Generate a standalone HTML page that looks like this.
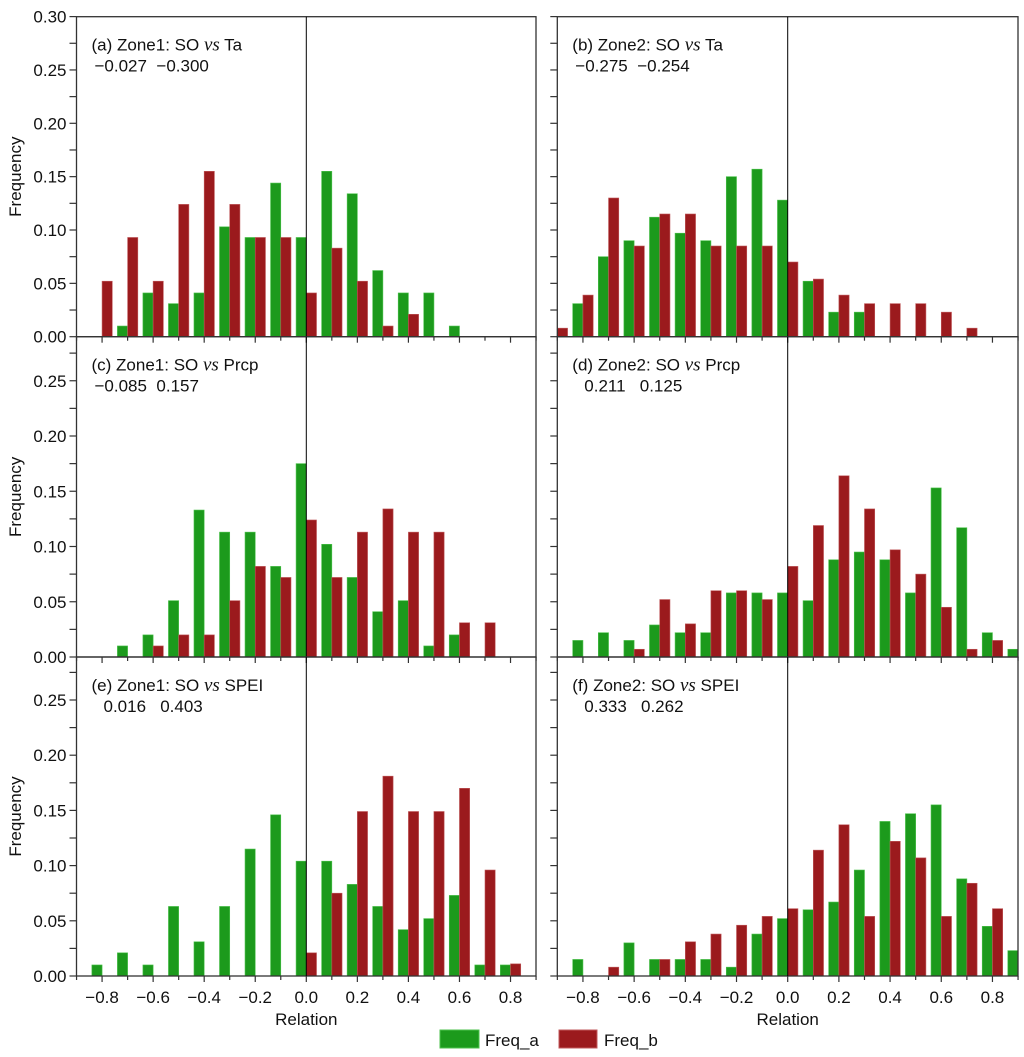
<!DOCTYPE html>
<html><head><meta charset="utf-8"><style>
body{margin:0;background:#fff;}
svg{display:block;font-family:"Liberation Sans",Arial,sans-serif;}
</style></head><body>
<svg id="chart" width="1024" height="1057" viewBox="0 0 1024 1057" xmlns="http://www.w3.org/2000/svg"></svg>
<script>
const bins = [-0.9,-0.8,-0.7,-0.6,-0.5,-0.4,-0.3,-0.2,-0.1,0.0,0.1,0.2,0.3,0.4,0.5,0.6,0.7,0.8,0.9];
const aGreen = [0,0,0.010,0.041,0.031,0.041,0.103,0.093,0.144,0.093,0.155,0.134,0.062,0.041,0.041,0.010,0,0,0];
const aRed   = [0,0.052,0.093,0.052,0.124,0.155,0.124,0.093,0.093,0.041,0.083,0.052,0.010,0.021,0,0,0,0,0];
const bGreen = [0,0.031,0.075,0.090,0.112,0.097,0.090,0.150,0.157,0.128,0.052,0.023,0.023,0,0,0,0,0,0];
const bRed   = [0.008,0.039,0.130,0.085,0.115,0.115,0.085,0.085,0.085,0.070,0.054,0.039,0.031,0.031,0.031,0.023,0.008,0,0];
const cGreen = [0,0,0.010,0.020,0.051,0.133,0.113,0.113,0.082,0.175,0.102,0.072,0.041,0.051,0.010,0.020,0,0,0];
const cRed   = [0,0,0,0.010,0.020,0.020,0.051,0.082,0.072,0.124,0.072,0.113,0.134,0.113,0.113,0.031,0.031,0,0];
const dGreen = [0,0.015,0.022,0.015,0.029,0.022,0.022,0.058,0.058,0.058,0.051,0.088,0.095,0.088,0.058,0.153,0.117,0.022,0.007];
const dRed   = [0,0,0,0.007,0.052,0.030,0.060,0.060,0.052,0.082,0.119,0.164,0.134,0.097,0.075,0.045,0.007,0.015,0];
const eGreen = [0,0.010,0.021,0.010,0.063,0.031,0.063,0.115,0.146,0.104,0.104,0.083,0.063,0.042,0.052,0.073,0.010,0.010,0];
const eRed   = [0,0,0,0,0,0,0,0,0,0.021,0.075,0.149,0.181,0.149,0.149,0.170,0.096,0.011,0];
const fGreen = [0,0.015,0,0.030,0.015,0.015,0.015,0.008,0.038,0.052,0.060,0.067,0.096,0.140,0.147,0.155,0.088,0.045,0.023];
const fRed   = [0,0,0.008,0,0.015,0.031,0.038,0.046,0.054,0.061,0.114,0.137,0.054,0.122,0.107,0.054,0.084,0.061,0];
const yTicks = ["0.00","0.05","0.10","0.15","0.20","0.25","0.30"];
const xTicks = ["-0.8","-0.6","-0.4","-0.2","0.0","0.2","0.4","0.6","0.8"];
const titles = [
 ["(a) Zone1: SO ","Ta","\u22120.027  \u22120.300"],
 ["(b) Zone2: SO ","Ta","\u22120.275  \u22120.254"],
 ["(c) Zone1: SO ","Prcp","\u22120.085  0.157"],
 ["(d) Zone2: SO ","Prcp","0.211   0.125"],
 ["(e) Zone1: SO ","SPEI","0.016   0.403"],
 ["(f) Zone2: SO ","SPEI","0.333   0.262"]
];
const series = [[aGreen,aRed],[bGreen,bRed],[cGreen,cRed],[dGreen,dRed],[eGreen,eRed],[fGreen,fRed]];

const NS="http://www.w3.org/2000/svg";
const svg=document.getElementById('chart');
function mk(tag,attrs,parent){const e=document.createElementNS(NS,tag);for(const k in attrs)e.setAttribute(k,attrs[k]);(parent||svg).appendChild(e);return e;}
const cols=[{x0:76.5,x1:536,z:306.3},{x0:557.3,x1:1018,z:787.7}];
const rows=[{top:16.7,bot:336.7,s:1067},{top:336.7,bot:657,s:1105},{top:657,bot:976,s:1104}];
const GREEN="#1c9a1c",RED="#9b1a1d";
for(let p=0;p<6;p++){
  const c=cols[p%2],r=rows[Math.floor(p/2)];
  const g=mk('g',{});
  
  
  const ppu=(c.x1-c.x0)/1.8;
  const X=v=>c.z+v*ppu, Y=v=>r.bot-v*r.s;
  const bw=0.04*ppu;
  const [gs,rs]=series[p];
  bins.forEach((b,i)=>{
    if(gs[i]>0){const e=mk('rect',{x:X(b)-bw,y:Y(gs[i]),width:bw,height:r.bot-Y(gs[i]),fill:GREEN,stroke:"#4cc24c","stroke-width":0.6},g);
      }
    if(rs[i]>0){const e=mk('rect',{x:X(b),y:Y(rs[i]),width:bw,height:r.bot-Y(rs[i]),fill:RED,stroke:"#c05a5c","stroke-width":0.6},g);
      }
  });
  // frame
  mk('rect',{x:c.x0,y:r.top,width:c.x1-c.x0,height:r.bot-r.top,fill:"none",stroke:"#333","stroke-width":1.3},g);
  mk('line',{x1:X(0),x2:X(0),y1:r.top,y2:r.bot,stroke:"#000","stroke-width":1},g);
  // y ticks
  for(let k=0;k<=12;k++){const v=k*0.025;const y=Y(v);if(y<r.top-0.5)break;
    mk('line',{x1:c.x0-7,x2:c.x0,y1:y,y2:y,stroke:"#333","stroke-width":1.2},g);
    if(p%2===0&&k%2===0){const t=mk('text',{x:c.x0-10,y:y+6,"text-anchor":"end","font-size":17,fill:"#111"},g);t.textContent=yTicks[k/2];
      }
  }
  // x ticks
  for(let k=-9;k<=9;k++){const x=X(k/10);const maj=k%2===0;
    mk('line',{x1:x,x2:x,y1:r.bot,y2:r.bot+(maj?6:4),stroke:"#333","stroke-width":1.2},g);
  }
  if(p>=4){xTicks.forEach((lab,i)=>{const v=-0.8+0.2*i;const t=mk('text',{x:X(v),y:1003,"text-anchor":"middle","font-size":17,fill:"#111"},g);
      t.textContent=lab.replace('-','\u2212');});
    const t=mk('text',{x:c.z,y:1025,"text-anchor":"middle","font-size":17,fill:"#111"},g);t.textContent="Relation";
    }
  if(p%2===0){const yc=(r.top+r.bot)/2;const t=mk('text',{x:21,y:yc,"text-anchor":"middle","font-size":17,fill:"#111",transform:`rotate(-90 21 ${yc})`},g);
    t.textContent="Frequency";}
  const tt=mk('text',{x:c.x0+15,y:r.top+34,"font-size":17,fill:"#111"},g);
  
  tt.appendChild(document.createTextNode(titles[p][0]));
  const vs=mk('tspan',{"font-family":"Liberation Serif,serif","font-style":"italic","font-size":19},tt);vs.textContent="vs";
  tt.appendChild(document.createTextNode(" "+titles[p][1]));
  const nt=mk('text',{x:c.x0+(p<2||p==2?18:27),y:r.top+55,"font-size":17,fill:"#111","xml:space":"preserve"},g);
  nt.setAttribute('style','white-space:pre');nt.textContent=titles[p][2];
  
}
// legend
const lg=mk('g',{});

const l1=mk('rect',{x:440,y:1030,width:39,height:18,fill:GREEN,stroke:"#4cc24c"},lg);

const t1=mk('text',{x:485,y:1046,"font-size":17,fill:"#111"},lg);t1.textContent="Freq_a";

const l2=mk('rect',{x:559,y:1030,width:38,height:18,fill:RED,stroke:"#c05a5c"},lg);

const t2=mk('text',{x:604,y:1046,"font-size":17,fill:"#111"},lg);t2.textContent="Freq_b";

</script>
</body></html>
